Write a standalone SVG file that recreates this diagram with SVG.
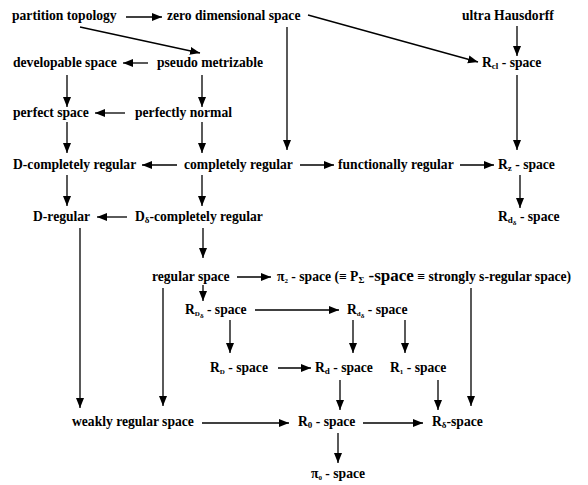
<svg xmlns="http://www.w3.org/2000/svg" width="588" height="485" viewBox="0 0 588 485">
<defs>
<marker id="ah" markerUnits="userSpaceOnUse" markerWidth="11" markerHeight="9" refX="10" refY="4" orient="auto">
<path d="M0,0 L10,4 L0,8 z" fill="#000"/>
</marker>
<style>
text{font-family:"Liberation Serif","Times New Roman",serif;font-weight:bold;font-size:13.6px;fill:#000}
.s{font-size:9px}
.ss{font-size:7px}
.big{font-size:17px}
#edges line{stroke:#000;stroke-width:1.3;marker-end:url(#ah)}
</style>
</defs>
<rect width="588" height="485" fill="#fff"/>
<g id="edges">
<line x1="126" y1="17" x2="162" y2="17"/>
<line x1="80" y1="27" x2="200" y2="53"/>
<line x1="308" y1="15" x2="478" y2="62"/>
<line x1="287" y1="27" x2="287" y2="150"/>
<line x1="517" y1="26" x2="517" y2="56"/>
<line x1="517" y1="75" x2="517" y2="150"/>
<line x1="148" y1="63" x2="123" y2="63"/>
<line x1="67" y1="75" x2="67" y2="107"/>
<line x1="202" y1="75" x2="202" y2="107"/>
<line x1="125" y1="113" x2="95" y2="113"/>
<line x1="67" y1="122" x2="67" y2="153"/>
<line x1="202" y1="122" x2="202" y2="153"/>
<line x1="177" y1="165" x2="142" y2="165"/>
<line x1="300" y1="165" x2="334" y2="165"/>
<line x1="460" y1="165" x2="494" y2="165"/>
<line x1="67" y1="175" x2="67" y2="206"/>
<line x1="202" y1="175" x2="202" y2="206"/>
<line x1="520" y1="175" x2="520" y2="208"/>
<line x1="127" y1="217" x2="97" y2="217"/>
<line x1="80" y1="228" x2="80" y2="408"/>
<line x1="203" y1="228" x2="203" y2="258"/>
<line x1="237" y1="277" x2="271" y2="277"/>
<line x1="203" y1="285" x2="203" y2="301"/>
<line x1="163" y1="288" x2="163" y2="406"/>
<line x1="471" y1="288" x2="471" y2="406"/>
<line x1="255" y1="310" x2="339" y2="310"/>
<line x1="230" y1="320" x2="230" y2="353"/>
<line x1="353" y1="320" x2="353" y2="353"/>
<line x1="405" y1="320" x2="405" y2="353"/>
<line x1="278" y1="368" x2="311" y2="368"/>
<line x1="340" y1="380" x2="340" y2="410"/>
<line x1="438" y1="380" x2="438" y2="410"/>
<line x1="202" y1="423" x2="289" y2="423"/>
<line x1="363" y1="423" x2="423" y2="423"/>
<line x1="338" y1="433" x2="338" y2="463"/>
</g>
<g id="partition"><text x="12" y="20">partition topology</text></g>
<g id="zero"><text x="167" y="20">zero dimensional space</text></g>
<g id="ultra"><text x="462" y="20">ultra Hausdorff</text></g>
<g id="developable"><text x="13" y="67">developable space</text></g>
<g id="pseudo"><text x="157" y="67">pseudo metrizable</text></g>
<g id="Rcl"><text x="482" y="67">R<tspan class="s" dy="2">cl</tspan><tspan dy="-2"> - space</tspan></text></g>
<g id="perfect"><text x="13" y="117">perfect space</text></g>
<g id="perfectly"><text x="135" y="117">perfectly normal</text></g>
<g id="Dcomp"><text x="13" y="169">D-completely regular</text></g>
<g id="comp"><text x="184" y="169">completely regular</text></g>
<g id="func"><text x="338" y="169">functionally regular</text></g>
<g id="Rz"><text x="498" y="169">R<tspan class="s" dy="2">z</tspan><tspan dy="-2"> - space</tspan></text></g>
<g id="Dreg"><text x="33" y="221">D-regular</text></g>
<g id="Ddelta"><text x="135" y="221">D<tspan class="s" dy="2">δ</tspan><tspan dy="-2">-completely regular</tspan></text></g>
<g id="Rddelta1"><text x="498" y="221">R<tspan class="s" dy="2">d</tspan><tspan class="ss" dy="2">δ</tspan><tspan dy="-4"> - space</tspan></text></g>
<g id="regular"><text x="152" y="281">regular space</text></g>
<g id="pi2"><text x="277" y="281">π<tspan class="ss" dy="2">2</tspan><tspan dy="-2"> - space (≡ P</tspan><tspan class="s" dy="2">Σ</tspan><tspan class="big" dy="-2"> -space</tspan> ≡ strongly s-regular space)</text></g>
<g id="RDdelta"><text x="185" y="314">R<tspan class="ss" dy="2">D</tspan><tspan class="ss" dy="2">δ</tspan><tspan dy="-4"> - space</tspan></text></g>
<g id="Rddelta2"><text x="347" y="314">R<tspan class="ss" dy="2">d</tspan><tspan class="ss" dy="2">δ</tspan><tspan dy="-4"> - space</tspan></text></g>
<g id="RD"><text x="210" y="372">R<tspan class="ss" dy="2">D</tspan><tspan dy="-2"> - space</tspan></text></g>
<g id="Rd"><text x="315" y="372">R<tspan class="s" dy="2">d</tspan><tspan dy="-2"> - space</tspan></text></g>
<g id="R1"><text x="390" y="372">R<tspan class="ss" dy="2">1</tspan><tspan dy="-2"> - space</tspan></text></g>
<g id="weakly"><text x="72" y="426">weakly regular space</text></g>
<g id="R0"><text x="298" y="426">R<tspan class="s" dy="2">0</tspan><tspan dy="-2"> - space</tspan></text></g>
<g id="Rdeltasp"><text x="432" y="426">R<tspan class="s" dy="2">δ</tspan><tspan dy="-2">-space</tspan></text></g>
<g id="pi0"><text x="311" y="478">π<tspan class="ss" dy="2">0</tspan><tspan dy="-2"> - space</tspan></text></g>
</svg>
